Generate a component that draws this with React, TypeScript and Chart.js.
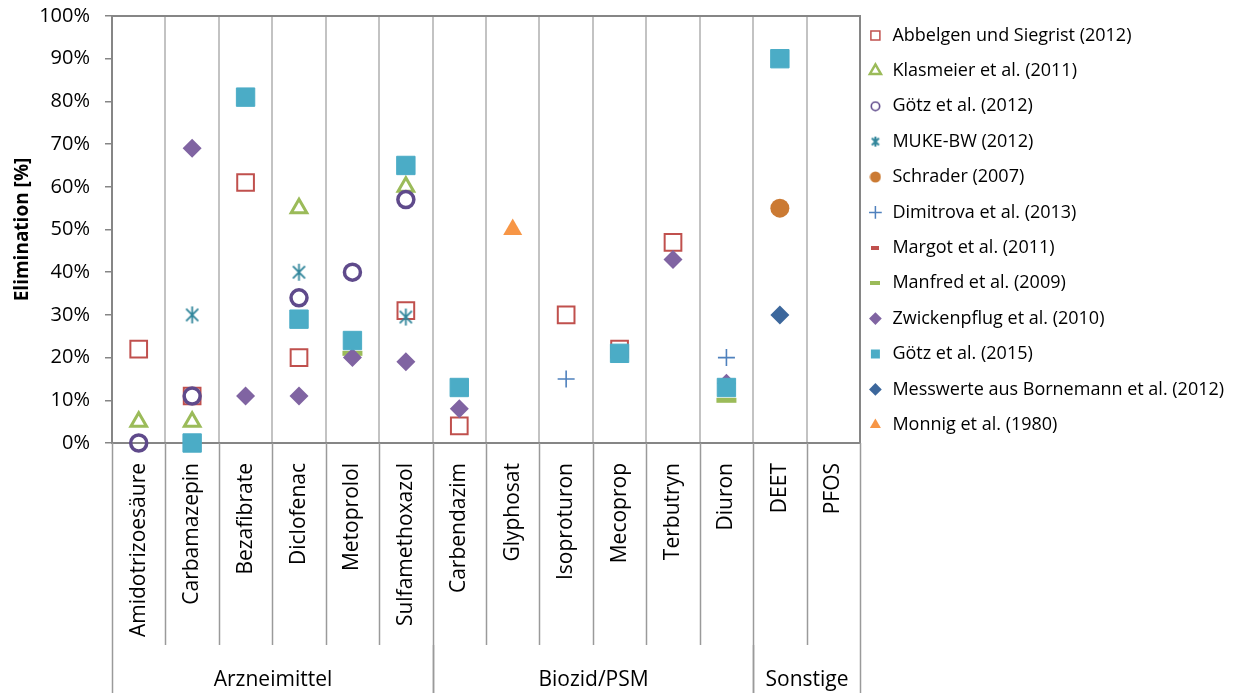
import React, { useEffect, useRef } from 'react';
import { Chart, registerables } from 'chart.js';

Chart.register(...registerables);

// ---------- data ----------
const categories = [
  'Amidotrizoesäure', 'Carbamazepin', 'Bezafibrate', 'Diclofenac', 'Metoprolol', 'Sulfamethoxazol',
  'Carbendazim', 'Glyphosat', 'Isoproturon', 'Mecoprop', 'Terbutryn', 'Diuron',
  'DEET', 'PFOS',
];
const groups = ['Arzneimittel', 'Biozid/PSM', 'Sonstige'];
const groupSizes = [6, 6, 2];
const yMin = 0;
const yMax = 100;
const yStep = 10;

const seriesNames = [
  'Abbelgen und Siegrist (2012)',
  'Klasmeier et al. (2011)',
  'Götz et al. (2012)',
  'MUKE-BW (2012)',
  'Schrader (2007)',
  'Dimitrova et al. (2013)',
  'Margot et al. (2011)',
  'Manfred et al. (2009)',
  'Zwickenpflug et al. (2010)',
  'Götz et al. (2015)',
  'Messwerte aus Bornemann et al. (2012)',
  'Monnig et al. (1980)',
];

const abbelgen = [22, 11, 61, 20, null, 31, 4, null, 30, 22, 47, null, null, null];
const klasmeier = [5, 5, null, 55, null, 60, null, null, null, null, null, null, null, null];
const goetz2012 = [0, 11, null, 34, 40, 57, null, null, null, null, null, null, null, null];
const mukeBW = [null, 30, null, 40, null, 29.5, null, null, null, null, null, null, null, null];
const schrader = [null, null, null, null, null, null, null, null, null, null, null, null, 55, null];
const dimitrova = [null, null, null, null, null, null, null, null, 15, null, null, 20, null, null];
const margot = [null, null, null, null, null, null, null, null, null, null, null, null, null, null];
const manfred = [null, null, null, null, 21, null, null, null, null, null, null, 10, null, null];
const zwickenpflug = [null, 69, 11, 11, 20, 19, 8, null, null, null, 43, 14, null, null];
const goetz2015 = [null, 0, 81, 29, 24, 65, 13, null, null, 21, null, 13, 90, null];
const messwerte = [null, null, null, null, null, null, null, null, null, null, null, null, 30, null];
const monnig = [null, null, null, null, null, null, null, 50, null, null, null, null, null, null];

const seriesData = [
  abbelgen, klasmeier, goetz2012, mukeBW, schrader, dimitrova,
  margot, manfred, zwickenpflug, goetz2015, messwerte, monnig,
];

// ---------- marker helpers ----------
function makeAsterisk(size: number, color: string, lw: number) {
  const c = document.createElement('canvas');
  c.width = size;
  c.height = size;
  const ctx = c.getContext('2d')!;
  const m = size / 2;
  const r = size / 2 - lw / 2;
  const d = r * Math.SQRT1_2;
  ctx.strokeStyle = color;
  ctx.lineWidth = lw;
  ctx.beginPath();
  ctx.moveTo(m, m - r); ctx.lineTo(m, m + r);
  ctx.moveTo(m - d, m - d); ctx.lineTo(m + d, m + d);
  ctx.moveTo(m + d, m - d); ctx.lineTo(m - d, m + d);
  ctx.stroke();
  return c;
}

function makeDash(w: number, h: number, color: string) {
  const c = document.createElement('canvas');
  c.width = w;
  c.height = h;
  const ctx = c.getContext('2d')!;
  ctx.fillStyle = color;
  ctx.fillRect(0, 0, w, h);
  return c;
}

function makeDot(size: number, color: string, lw: number) {
  const c = document.createElement('canvas');
  c.width = size;
  c.height = size;
  const ctx = c.getContext('2d')!;
  const m = size / 2;
  ctx.beginPath();
  if (lw > 0) {
    ctx.arc(m, m, m - lw / 2 - 0.5, 0, Math.PI * 2);
    ctx.strokeStyle = color;
    ctx.lineWidth = lw;
    ctx.stroke();
  } else {
    ctx.arc(m, m, m - 0.5, 0, Math.PI * 2);
    ctx.fillStyle = color;
    ctx.fill();
  }
  return c;
}

const FONT = "'Open Sans', 'DejaVu Sans', sans-serif";

export default function App() {
  const ref = useRef<HTMLCanvasElement | null>(null);

  useEffect(() => {
    document.body.style.margin = '0';
    const canvas = ref.current;
    if (!canvas) return;

    const teal = '#31869B';
    const styles: any[] = [
      { style: 'rect', r: 11.8, bw: 2, bg: 'rgba(0,0,0,0)', bc: '#C0504D', lStyle: 'rect', lw: 1.5 },
      { style: 'triangle', r: 9, bw: 3, bg: 'rgba(0,0,0,0)', bc: '#9BBB59', lStyle: 'triangle', lw: 2.5 },
      { style: 'circle', r: 8, bw: 3.5, bg: 'rgba(0,0,0,0)', bc: '#5F4A8B', lStyle: makeDot(11, '#5F4A8B', 1.6), lw: 0 },
      { style: makeAsterisk(19, teal, 1.8), bw: 0, bg: teal, bc: teal, lStyle: makeAsterisk(12, teal, 2), lw: 1 },
      { style: 'circle', r: 9.5, bw: 0, bg: '#CB7A33', bc: '#CB7A33', lStyle: makeDot(12, '#CB7A33', 0), lw: 0 },
      { style: 'cross', r: 8.5, bw: 1.6, bg: '#4F81BD', bc: '#4F81BD', lStyle: 'cross', lw: 1.5 },
      { style: 'line', r: 10, bw: 5, bg: '#C0504D', bc: '#C0504D', lStyle: makeDash(8, 4, '#C0504D'), lw: 0 },
      { style: 'line', r: 10, bw: 5, bg: '#9BBB59', bc: '#9BBB59', lStyle: makeDash(10, 4, '#9BBB59'), lw: 0 },
      { style: 'rectRot', r: 9.5, bw: 0, bg: '#8064A2', bc: '#8064A2', lStyle: 'rectRot', lw: 0 },
      { style: 'rect', r: 13, bw: 1, bg: '#4BACC6', bc: '#4BACC6', lStyle: 'rect', lw: 0 },
      { style: 'rectRot', r: 9.5, bw: 0, bg: '#3C679C', bc: '#3C679C', lStyle: 'rectRot', lw: 0 },
      { style: 'triangle', r: 11, bw: 0, bg: '#F79646', bc: '#F79646', lStyle: 'triangle', lw: 0 },
    ];

    const n = seriesNames.length;
    const datasets = seriesNames.map((name, i) => {
      const s = styles[i];
      return {
        label: name,
        data: seriesData[i],
        showLine: false,
        clip: false as any,
        order: n - i,
        pointStyle: s.style,
        pointRadius: s.r ?? 10,
        pointHoverRadius: s.r ?? 10,
        pointBorderWidth: s.bw,
        pointBackgroundColor: s.bg,
        pointBorderColor: s.bc,
        backgroundColor: s.bg,
        borderColor: s.bc,
      };
    });

    const groupPlugin = {
      id: 'groupAxis',
      afterDraw(chart: any) {
        const { ctx, chartArea } = chart;
        const x = chart.scales.x;
        const axisBottom = x.bottom;
        const H = chart.height;
        ctx.save();
        // frame top + right
        ctx.strokeStyle = '#868686';
        ctx.lineWidth = 2;
        ctx.beginPath();
        ctx.moveTo(chartArea.left, chartArea.top);
        ctx.lineTo(chartArea.right, chartArea.top);
        ctx.lineTo(chartArea.right, chartArea.bottom);
        ctx.stroke();
        // separators below the axis
        ctx.strokeStyle = '#9a9a9a';
        ctx.lineWidth = 1.5;
        ctx.beginPath();
        for (let i = 0; i <= categories.length; i++) {
          const px = Math.round(x.getPixelForValue(i - 0.5)) + 0.5;
          ctx.moveTo(px, chartArea.bottom);
          ctx.lineTo(px, axisBottom);
        }
        ctx.stroke();
        // groups
        ctx.fillStyle = '#000';
        ctx.font = `21px ${FONT}`;
        ctx.textAlign = 'center';
        ctx.textBaseline = 'middle';
        let start = 0;
        groups.forEach((g, k) => {
          const end = start + groupSizes[k];
          const l = Math.round(x.getPixelForValue(start - 0.5)) + 0.5;
          const r = Math.round(x.getPixelForValue(end - 0.5)) + 0.5;
          ctx.beginPath();
          ctx.moveTo(l, axisBottom); ctx.lineTo(l, H);
          ctx.moveTo(r, axisBottom); ctx.lineTo(r, H);
          ctx.stroke();
          ctx.fillText(g, (l + r) / 2, (axisBottom + H) / 2 + 11);
          start = end;
        });
        ctx.restore();
      },
    };

    const legendShift = {
      id: 'legendShift',
      beforeDraw(chart: any) {
        const lg = chart.legend;
        if (lg && !lg._shifted) {
          lg.left -= 10;
          lg.right -= 10;
          lg._shifted = true;
        }
      },
    };

    const chart = new Chart(canvas, {
      type: 'line',
      data: { labels: categories, datasets: datasets as any },
      plugins: [groupPlugin, legendShift],
      options: {
        animation: false,
        responsive: true,
        maintainAspectRatio: false,
        events: [],
        layout: { padding: { top: 9, right: 0, bottom: 48, left: 0 } },
        font: { family: FONT },
        plugins: {
          tooltip: { enabled: false },
          title: { display: false },
          legend: {
            position: 'right',
            align: 'start',
            maxWidth: 384,
            labels: {
              usePointStyle: true,
              boxHeight: 9,
              boxWidth: 16,
              padding: 17.4,
              color: '#000',
              font: { family: FONT, size: 18 },
              sort: (a: any, b: any) => a.datasetIndex - b.datasetIndex,
              generateLabels: (ch: any) => {
                const items = (Chart.defaults.plugins.legend.labels as any).generateLabels(ch);
                return items.map((it: any) => {
                  const s = styles[it.datasetIndex];
                  return {
                    ...it,
                    pointStyle: s.lStyle,
                    lineWidth: s.lw,
                    fillStyle: s.bg,
                    strokeStyle: s.bc,
                    fontColor: '#000',
                  };
                });
              },
            },
          },
        },
        scales: {
          x: {
            type: 'category',
            offset: true,
            grid: {
              display: true,
              offset: true,
              drawOnChartArea: true,
              drawTicks: false,
              color: '#c3c3c3',
              lineWidth: 2,
            },
            border: { display: true, color: '#868686', width: 2 },
            ticks: {
              autoSkip: false,
              minRotation: 90,
              maxRotation: 90,
              padding: 20,
              color: '#000',
              font: { family: FONT, size: 21 },
            },
            afterFit: (scale: any) => {
              scale.height = 202;
            },
          },
          y: {
            min: yMin,
            max: yMax,
            ticks: {
              stepSize: yStep,
              padding: 15,
              color: '#000',
              font: { family: FONT, size: 20 },
              callback: (v: any) => `${v}%`,
            },
            grid: {
              drawOnChartArea: false,
              drawTicks: true,
              tickLength: 7,
              color: '#868686',
              lineWidth: 1.5,
            },
            border: { display: true, color: '#868686', width: 2 },
            title: {
              display: true,
              text: 'Elimination [%]',
              color: '#000',
              font: { family: FONT, size: 19, weight: 'bold' },
              padding: { top: 11, bottom: 0 },
            },
            afterFit: (scale: any) => {
              scale.width = 112;
              scale.paddingTop = 16;
              scale.paddingBottom = 10;
            },
          },
        },
      } as any,
    });

    return () => chart.destroy();
  }, []);

  return (
    <div style={{ position: 'relative', width: 1244, height: 693 }}>
      <canvas ref={ref} />
    </div>
  );
}
